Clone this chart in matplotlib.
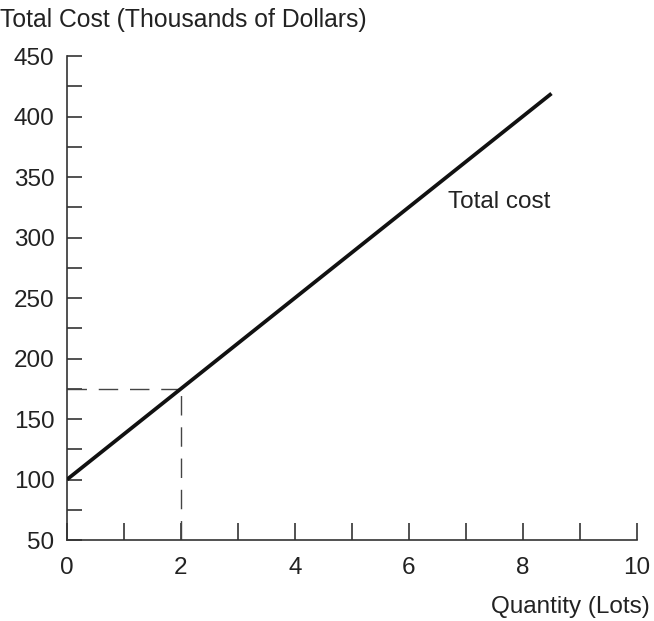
import matplotlib
matplotlib.use("Agg")
import matplotlib.pyplot as plt
from matplotlib.ticker import MultipleLocator

plt.rcParams["font.family"] = ["Liberation Sans", "DejaVu Sans"]

# données
qty_line = [0, 8.5]
cost_line = [100, 419]
q_mark = 2
cost_mark = 175
x_ticks = [0, 2, 4, 6, 8, 10]
y_ticks = [50, 100, 150, 200, 250, 300, 350, 400, 450]

fig = plt.figure(figsize=(6.54, 6.21), dpi=100)
ax = fig.add_axes([0.1024, 0.1304, 0.8716, 0.7794])

ax.plot(qty_line, cost_line, color="#111111", lw=2.7, solid_capstyle="butt", zorder=3)
ax.plot([0, q_mark], [cost_mark, cost_mark], color="#444444", lw=1.0, dashes=(14, 8.5))
ax.plot([q_mark, q_mark], [50, cost_mark], color="#444444", lw=1.0, dashes=(14, 8.5))

ax.set_xlim(0, 10)
ax.set_ylim(50, 450)
ax.set_xticks(x_ticks)
ax.set_yticks(y_ticks)
ax.xaxis.set_minor_locator(MultipleLocator(1))
ax.yaxis.set_minor_locator(MultipleLocator(25))
ax.tick_params(which="both", direction="in", colors="#333333", width=1.2,
               labelsize=17.5, labelcolor="#222222")
ax.tick_params(axis="y", which="both", length=11, pad=9)
ax.tick_params(axis="x", which="both", length=12, pad=12)

for s in ["top", "right"]:
    ax.spines[s].set_visible(False)
for s in ["left", "bottom"]:
    ax.spines[s].set_color("#333333")
    ax.spines[s].set_linewidth(1.2)

ax.text(6.68, 329, "Total cost", fontsize=17.5, color="#222222", va="center", ha="left")
fig.text(0.0, 0.968, "Total Cost (Thousands of Dollars)", fontsize=17.8,
         color="#222222", va="center", ha="left")
fig.text(0.993, 0.022, "Quantity (Lots)", fontsize=17.5,
         color="#222222", va="center", ha="right")

fig.savefig("out.png", dpi=100, facecolor="white")
